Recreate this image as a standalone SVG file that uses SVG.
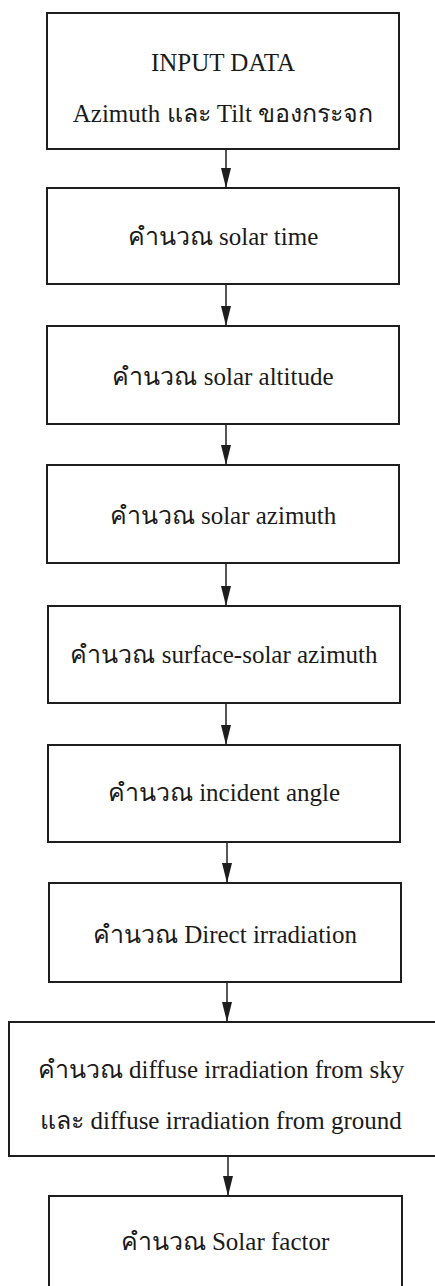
<svg xmlns="http://www.w3.org/2000/svg" width="435" height="1286" viewBox="0 0 435 1286">
<style>
.box{fill:#fff;stroke:#1e1e1e;stroke-width:2}
.t{font-family:"Liberation Serif","DejaVu Serif","Noto Sans",serif;font-size:25px;fill:#1a1a1a;text-anchor:middle}
.c{stroke:#1e1e1e;stroke-width:1.5;fill:none}
</style>
<defs>
<marker id="arr" viewBox="0 0 20 10" refX="20" refY="5" markerWidth="20" markerHeight="10" markerUnits="userSpaceOnUse" orient="auto">
<path d="M0,0 L20,5 L0,10 Z" fill="#1e1e1e"/>
</marker>
</defs>
<rect width="435" height="1286" fill="#fff"/>
<g id="connectors">
<line class="c" x1="226" y1="149" x2="226" y2="188" marker-end="url(#arr)"/>
<line class="c" x1="226" y1="284" x2="226" y2="326" marker-end="url(#arr)"/>
<line class="c" x1="226" y1="424" x2="226" y2="465" marker-end="url(#arr)"/>
<line class="c" x1="226" y1="563" x2="226" y2="606" marker-end="url(#arr)"/>
<line class="c" x1="226" y1="703" x2="226" y2="745" marker-end="url(#arr)"/>
<line class="c" x1="227" y1="842" x2="227" y2="883" marker-end="url(#arr)"/>
<line class="c" x1="227" y1="982" x2="227" y2="1022" marker-end="url(#arr)"/>
<line class="c" x1="228" y1="1156" x2="228" y2="1196" marker-end="url(#arr)"/>
</g>
<g id="n1"><rect class="box" x="47" y="13" width="352" height="136"/>
<text class="t" x="223" y="71">INPUT DATA</text>
<text class="t" x="223" y="122">Azimuth และ Tilt ของกระจก</text></g>
<g id="n2"><rect class="box" x="47" y="188" width="352" height="96"/>
<text class="t" x="223" y="245">คำนวณ solar time</text></g>
<g id="n3"><rect class="box" x="47" y="326" width="352" height="98"/>
<text class="t" x="223" y="385">คำนวณ solar altitude</text></g>
<g id="n4"><rect class="box" x="47" y="465" width="352" height="98"/>
<text class="t" x="223" y="524">คำนวณ solar azimuth</text></g>
<g id="n5"><rect class="box" x="48" y="606" width="352" height="97"/>
<text class="t" x="224" y="663">คำนวณ surface-solar azimuth</text></g>
<g id="n6"><rect class="box" x="48" y="745" width="352" height="97"/>
<text class="t" x="224" y="801">คำนวณ incident angle</text></g>
<g id="n7"><rect class="box" x="49" y="883" width="352" height="99"/>
<text class="t" x="225" y="943">คำนวณ Direct irradiation</text></g>
<g id="n8"><rect class="box" x="9" y="1022" width="440" height="134"/>
<text class="t" x="221" y="1078">คำนวณ diffuse irradiation from sky</text>
<text class="t" x="221" y="1129">และ diffuse irradiation from ground</text></g>
<g id="n9"><rect class="box" x="49" y="1196" width="353" height="100"/>
<text class="t" x="225" y="1250">คำนวณ Solar factor</text></g>
</svg>
